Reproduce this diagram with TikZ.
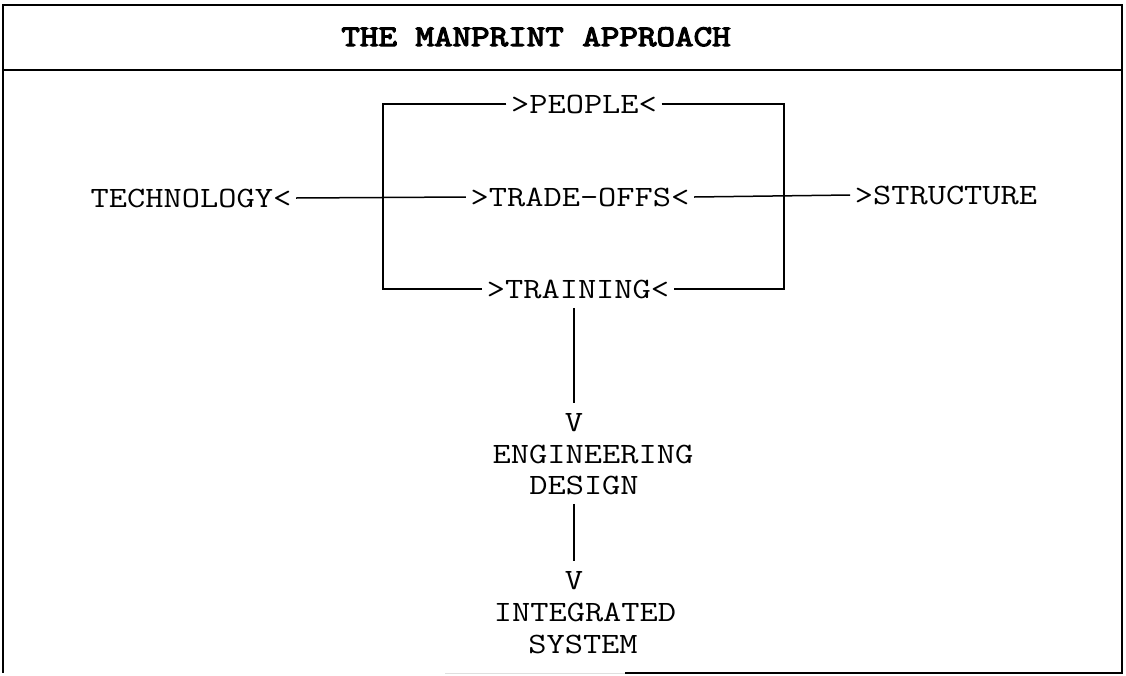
\documentclass[tikz,border=0pt]{standalone}
\usepackage{fontspec}
\newfontfamily\typefont[FakeStretch=1.2]{Latin Modern Mono}
\newfontfamily\headfont[FakeStretch=1.2,FakeBold=4]{Latin Modern Mono}
\usetikzlibrary{positioning}

\begin{document}
\begin{tikzpicture}[x=1pt,y=-1pt,line width=1.5pt]
    \pgfmathsetmacro{\framewidth}{1122}
    \pgfmathsetmacro{\frameleft}{3}
    \pgfmathsetmacro{\frametop}{5}
    \pgfmathsetmacro{\framebottom}{673}
    \pgfmathsetmacro{\headerheight}{70}
    \providecommand{\titlefontsize}{\fontsize{30pt}{32pt}\selectfont}
    \providecommand{\labelfontsize}{\fontsize{29.5pt}{32pt}\selectfont}
    \tikzset{lbl/.style={font=\typefont\labelfontsize,inner xsep=4pt,inner ysep=9pt,text height=18pt,text depth=0pt}}
    \useasboundingbox (0,0) rectangle (1126,675);
    % frame, the bottom edge is only partly printed
    \draw (625,\framebottom) -- (\framewidth,\framebottom) -- (\framewidth,\frametop) -- (\frameleft,\frametop) -- (\frameleft,\framebottom);
    \draw[gray!25,line width=0.8pt] (445,\framebottom) -- (625,\framebottom);
    \draw (\frameleft,\headerheight) -- (\framewidth,\headerheight);
    \node[font=\headfont\titlefontsize,text height=18pt,text depth=0pt] (title) at (536,37) {THE MANPRINT APPROACH};
    \node[lbl] (people) at (584,104) {>PEOPLE<};
    \node[lbl] (trade) at (580,197) {>TRADE-OFFS<};
    \node[lbl] (training) at (578,289) {>TRAINING<};
    \node[lbl] (tech) at (191,198) {TECHNOLOGY<};
    \node[lbl] (struct) at (946,195) {>STRUCTURE};
    \node[lbl] (v1) at (574,422) {V};
    \node[lbl] (eng) at (593,454) {ENGINEERING};
    \node[lbl] (des) at (584,485) {DESIGN};
    \node[lbl] (v2) at (574,580) {V};
    \node[lbl] (int) at (585,612) {INTEGRATED};
    \node[lbl] (sys) at (583,644) {SYSTEM};
    \coordinate (lft) at (383,0);
    \coordinate (rgt) at (784,0);
    \draw (people.west) -- (people -| lft) -- (training -| lft) -- (training.west);
    \draw (people.east) -- (people -| rgt) -- (training -| rgt) -- (training.east);
    \draw (tech.east) -- (trade.west);
    \draw (trade.east) -- (struct.west);
    \draw (v1 |- training.south) -- (v1.north);
    \draw (v2 |- des.south) -- (v2.north);
\end{tikzpicture}
\end{document}
